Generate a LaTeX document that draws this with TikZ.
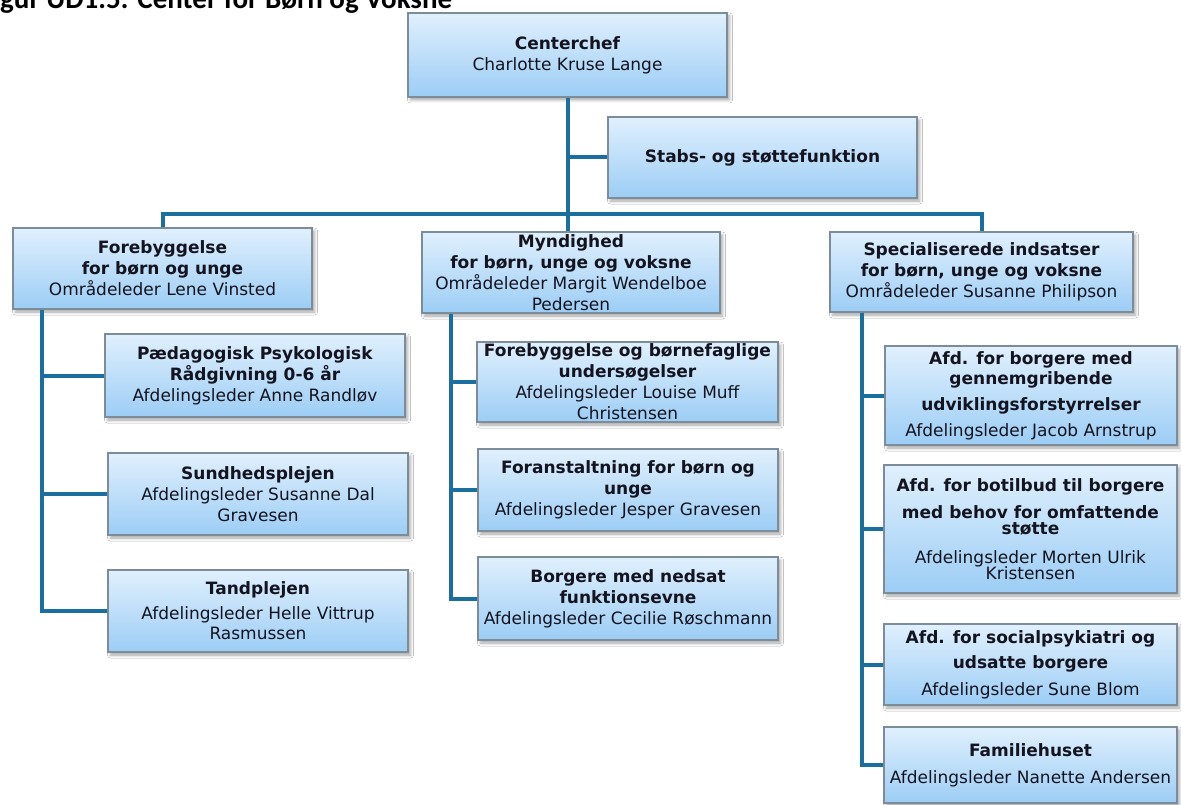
\documentclass[tikz,border=0pt]{standalone}
\usepackage{fontspec}
\setmainfont{DejaVu Sans}
\newfontfamily\titlefont{Carlito}
\usetikzlibrary{shadows.blur}
\definecolor{linecol}{HTML}{1A6F9F}
\definecolor{boxtop}{HTML}{E0F0FD}
\definecolor{boxbot}{HTML}{9CCDF5}
\definecolor{boxline}{HTML}{7D8C99}
\definecolor{txt}{HTML}{141420}
\begin{document}
\begin{tikzpicture}[x=1pt,y=-1pt,
  box/.style={draw=boxline, line width=1.2pt, top color=boxtop, bottom color=boxbot,
    align=center, inner sep=1pt, text=txt, font=\fontsize{17}{21}\selectfont,
    blur shadow={shadow xshift=2.5pt, shadow yshift=-3pt, shadow blur radius=3pt, shadow opacity=35}},
  conn/.style={draw=linecol, line width=4pt}]
\useasboundingbox (0,0) rectangle (1181,805);
\fill[white] (0,0) rectangle (1181,805);

\node[anchor=base west, inner sep=0, font=\titlefont\bfseries\fontsize{29}{29}\selectfont] (title) at (0,9) {gur UD1.5: Center for Børn og Voksne};

\node[box, minimum width=319, minimum height=84] (chef) at (567.5,55) {\textbf{Centerchef}\\Charlotte Kruse Lange};
\node[box, minimum width=309, minimum height=81] (stab) at (762.5,157.5) {\textbf{Stabs- og støttefunktion}};

\node[box, minimum width=299, minimum height=81] (fore) at (162.5,268.5) {\textbf{Forebyggelse}\\\textbf{for børn og unge}\\Områdeleder Lene Vinsted};
\node[box, minimum width=298, minimum height=81] (mynd) at (571,272.5) {\textbf{Myndighed}\\\textbf{for børn, unge og voksne}\\Områdeleder Margit Wendelboe\\Pedersen};
\node[box, minimum width=303, minimum height=80] (spec) at (981.5,272) {\textbf{Specialiserede indsatser}\\\textbf{for børn, unge og voksne}\\Områdeleder Susanne Philipson};

\node[box, minimum width=300, minimum height=83] (paed) at (255,375.5) {\textbf{Pædagogisk Psykologisk}\\\textbf{Rådgivning 0-6 år}\\Afdelingsleder Anne Randløv};
\node[box, minimum width=300, minimum height=82] (sund) at (258,494) {\textbf{Sundhedsplejen}\\Afdelingsleder Susanne Dal\\Gravesen};
\node[box, minimum width=300, minimum height=82] (tand) at (258,611) {\textbf{Tandplejen}\\[4pt]Afdelingsleder Helle Vittrup\\[-1pt]Rasmussen};

\node[box, minimum width=301, minimum height=80] (fbu) at (627.5,382) {\textbf{Forebyggelse og børnefaglige}\\\textbf{undersøgelser}\\Afdelingsleder Louise Muff\\Christensen};
\node[box, minimum width=300, minimum height=82] (foran) at (628,490) {\textbf{Foranstaltning for børn og}\\\textbf{unge}\\Afdelingsleder Jesper Gravesen};
\node[box, minimum width=300, minimum height=83] (borg) at (628,598.5) {\textbf{Borgere med nedsat}\\\textbf{funktionsevne}\\Afdelingsleder Cecilie Røschmann};

\node[box, minimum width=292, minimum height=99] (gen) at (1031,395.5) {\textbf{Afd. for borgere med}\\[-1pt]\textbf{gennemgribende}\\[5pt]\textbf{udviklingsforstyrrelser}\\[5pt]Afdelingsleder Jacob Arnstrup};
\node[box, minimum width=293, minimum height=128] (boti) at (1030.5,529) {\textbf{Afd. for botilbud til borgere}\\[6pt]\textbf{med behov for omfattende}\\[-5pt]\textbf{støtte}\\[8pt]Afdelingsleder Morten Ulrik\\[-5pt]Kristensen};
\node[box, minimum width=293, minimum height=81] (soc) at (1030.5,664.5) {\textbf{Afd. for socialpsykiatri og}\\[4pt]\textbf{udsatte borgere}\\[6pt]Afdelingsleder Sune Blom};
\node[box, minimum width=293, minimum height=76] (fam) at (1030.5,765) {\textbf{Familiehuset}\\[6pt]Afdelingsleder Nanette Andersen};

% connectors
\draw[conn] (chef.south) -- (chef.south |- mynd.north);
\draw[conn] (chef.south |- stab.west) -- (stab.west);
\draw[conn] (fore.north) -- ++(0,-13) -| (spec.north);

\coordinate (lt) at ([xshift=30pt]fore.south west);
\draw[conn] (lt) |- (paed.west);
\draw[conn] (lt) |- (sund.west);
\draw[conn] (lt) |- (tand.west);

\coordinate (mt) at ([xshift=30pt]mynd.south west);
\draw[conn] (mt) |- (fbu.west);
\draw[conn] (mt) |- (foran.west);
\draw[conn] (mt) |- (borg.west);

\coordinate (rt) at ([xshift=33pt]spec.south west);
\draw[conn] (rt) |- (gen.west);
\draw[conn] (rt) |- (boti.west);
\draw[conn] (rt) |- (soc.west);
\draw[conn] (rt) |- (fam.west);
\end{tikzpicture}
\end{document}
